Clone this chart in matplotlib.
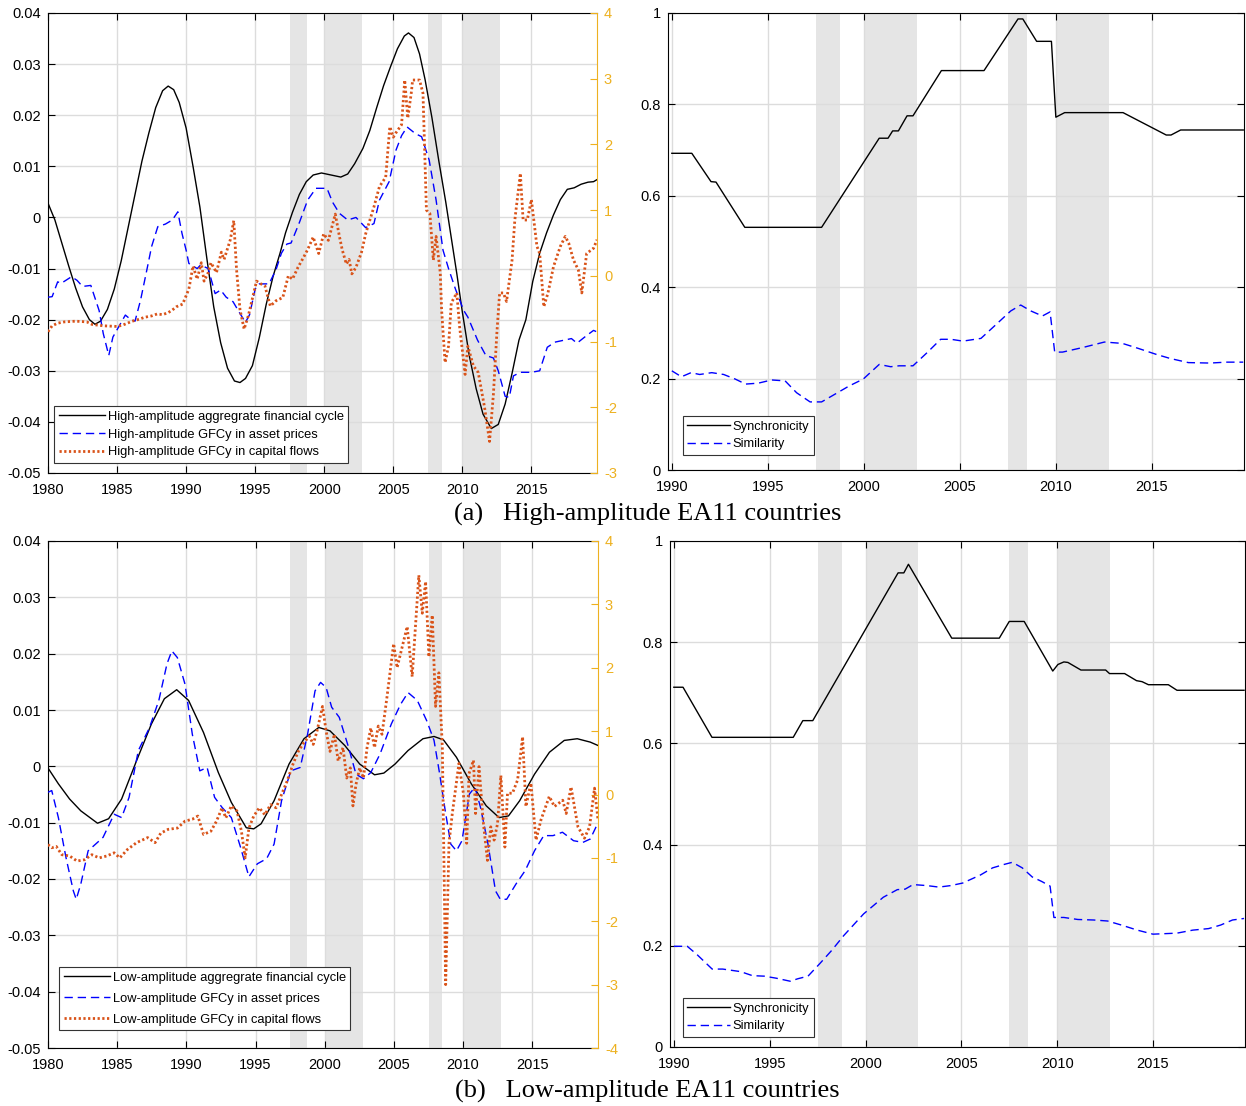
import matplotlib
matplotlib.use('Agg')
import matplotlib.pyplot as plt
from matplotlib.lines import Line2D

plt.rcParams['font.family'] = ['Liberation Sans', 'DejaVu Sans']
plt.rcParams['axes.unicode_minus'] = False

# shaded periods (years)
bands = [(1997.5, 1998.75), (2000.0, 2002.75), (2007.5, 2008.5), (2010.0, 2012.75)]

# ---------------- (a) high-amplitude, left panel ----------------
hi_agg_x = [1980.0, 1980.5, 1981.0, 1981.5, 1982.0, 1982.5, 1983.0, 1983.4, 1983.8, 1984.3,
            1984.8, 1985.3, 1985.8, 1986.3, 1986.8, 1987.3, 1987.8, 1988.3, 1988.7, 1989.1,
            1989.5, 1990.0, 1990.5, 1991.0, 1991.5, 1992.0, 1992.5, 1993.0, 1993.5, 1993.9,
            1994.3, 1994.8, 1995.3, 1995.8, 1996.3, 1996.8, 1997.2, 1997.7, 1998.2, 1998.7,
            1999.2, 1999.8, 2000.5, 2001.2, 2001.7, 2002.2, 2002.8, 2003.3, 2003.8, 2004.3,
            2004.8, 2005.3, 2005.8, 2006.1, 2006.5, 2006.9, 2007.3, 2007.8, 2008.3, 2008.8,
            2009.2, 2009.6, 2010.0, 2010.5, 2011.0, 2011.5, 2012.1, 2012.6, 2013.1, 2013.6,
            2014.1, 2014.6, 2015.1, 2015.6, 2016.1, 2016.6, 2017.1, 2017.6, 2018.1, 2018.6,
            2019.1, 2019.5, 2019.75]
hi_agg_y = [0.0028, -0.0005, -0.0050, -0.0095, -0.0138, -0.0175, -0.0200, -0.0209, -0.0203, -0.0180,
            -0.0140, -0.0085, -0.0020, 0.0045, 0.0110, 0.0165, 0.0215, 0.0248, 0.0257, 0.0250,
            0.0225, 0.0175, 0.0100, 0.0020, -0.0080, -0.0175, -0.0245, -0.0295, -0.0320, -0.0323,
            -0.0315, -0.0290, -0.0235, -0.0170, -0.0115, -0.0070, -0.0030, 0.0010, 0.0045, 0.0070,
            0.0083, 0.0087, 0.0083, 0.0079, 0.0085, 0.0105, 0.0135, 0.0170, 0.0215, 0.0258,
            0.0295, 0.0330, 0.0355, 0.0361, 0.0352, 0.0320, 0.0270, 0.0195, 0.0110, 0.0030,
            -0.0040, -0.0110, -0.0185, -0.0270, -0.0335, -0.0385, -0.0413, -0.0405, -0.0365, -0.0305,
            -0.0240, -0.0200, -0.0125, -0.0070, -0.0030, 0.0005, 0.0035, 0.0055, 0.0058, 0.0065,
            0.0069, 0.0070, 0.0074]

hi_asset_x = [1980.0, 1980.3, 1980.7, 1980.95, 1981.7, 1982.1, 1982.5, 1983.1, 1983.7, 1984.0,
              1984.4, 1984.7, 1985.6, 1986.0, 1986.3, 1986.7, 1987.2, 1987.5, 1987.95, 1988.5,
              1989.0, 1989.4, 1989.7, 1990.0, 1990.2, 1990.8, 1991.05, 1991.6, 1992.1, 1992.5,
              1992.9, 1993.4, 1993.9, 1994.3, 1994.6, 1995.0, 1995.3, 1996.0, 1996.5, 1996.9,
              1997.3, 1997.6, 1998.2, 1998.8, 1999.4, 2000.2, 2000.6, 2001.1, 2001.7, 2002.3,
              2003.0, 2003.6, 2004.0, 2004.7, 2005.2, 2005.6, 2006.0, 2006.6, 2007.05, 2007.6,
              2008.1, 2008.6, 2009.0, 2009.5, 2010.1, 2010.4, 2011.1, 2011.7, 2012.25, 2012.6,
              2013.1, 2013.4, 2013.7, 2014.2, 2015.0, 2015.6, 2016.15, 2016.7, 2017.9, 2018.3,
              2019.0, 2019.5, 2019.75]
hi_asset_y = [-0.0156, -0.0155, -0.0126, -0.0129, -0.0116, -0.0123, -0.0135, -0.0133, -0.0182, -0.0227,
              -0.0270, -0.0234, -0.0191, -0.0200, -0.0203, -0.0162, -0.0097, -0.0057, -0.0018, -0.0013,
              -0.0005, 0.0011, -0.0031, -0.0064, -0.0090, -0.0100, -0.0093, -0.0100, -0.0149, -0.0142,
              -0.0156, -0.0165, -0.0188, -0.0205, -0.0190, -0.0140, -0.0130, -0.0130, -0.0103, -0.0070,
              -0.0052, -0.0050, -0.0010, 0.0034, 0.0057, 0.0057, 0.0030, 0.0008, -0.0005, 0.0000,
              -0.0020, -0.0012, 0.0034, 0.0070, 0.0132, 0.0160, 0.0177, 0.0164, 0.0158, 0.0112,
              0.0034, -0.0064, -0.0100, -0.0140, -0.0182, -0.0195, -0.0240, -0.0270, -0.0275, -0.0300,
              -0.0350, -0.0352, -0.0310, -0.0303, -0.0303, -0.0300, -0.0254, -0.0244, -0.0237, -0.0246,
              -0.0231, -0.0221, -0.0224]

hi_flow_x = [1980.0, 1980.3, 1980.7, 1981.2, 1982.0, 1982.8, 1983.2, 1984.0, 1985.0, 1985.4,
             1986.1, 1986.6, 1987.0, 1987.5, 1987.9, 1988.3, 1988.7, 1989.0, 1989.3, 1989.75,
             1990.2, 1990.5, 1990.8, 1991.1, 1991.3, 1991.6, 1991.8, 1992.2, 1992.55, 1992.75,
             1993.2, 1993.45, 1993.65, 1993.9, 1994.2, 1994.5, 1995.1, 1995.4, 1995.7, 1996.1,
             1996.5, 1997.0, 1997.4, 1997.7, 1998.1, 1998.5, 1998.8, 1999.2, 1999.6, 1999.96,
             2000.3, 2000.8, 2001.1, 2001.3, 2001.6, 2001.8, 2002.0, 2002.3, 2002.7, 2003.0,
             2003.6, 2004.0, 2004.45, 2004.75, 2005.0, 2005.2, 2005.4, 2005.6, 2005.83, 2006.05,
             2006.3, 2006.4, 2006.9, 2007.15, 2007.4, 2007.65, 2007.9, 2008.1, 2008.4, 2008.5,
             2008.75, 2009.0, 2009.2, 2009.6, 2009.8, 2010.2, 2010.4, 2010.8, 2011.15, 2011.6,
             2011.97, 2012.25, 2012.5, 2012.7, 2012.97, 2013.2, 2013.6, 2013.8, 2014.2, 2014.4,
             2014.7, 2015.0, 2015.4, 2015.6, 2015.9, 2016.2, 2016.6, 2017.1, 2017.45, 2017.7,
             2018.05, 2018.4, 2018.65, 2019.0, 2019.5, 2019.75]
hi_flow_y = [-0.85, -0.76, -0.72, -0.70, -0.69, -0.70, -0.74, -0.76, -0.77, -0.75,
             -0.69, -0.66, -0.63, -0.61, -0.58, -0.59, -0.56, -0.52, -0.47, -0.43,
             -0.20, 0.15, -0.05, 0.20, -0.08, 0.05, 0.20, 0.05, 0.36, 0.25,
             0.55, 0.84, 0.10, -0.51, -0.81, -0.61, -0.08, -0.12, -0.15, -0.46,
             -0.38, -0.33, 0.00, -0.05, 0.13, 0.28, 0.40, 0.59, 0.34, 0.64,
             0.54, 0.94, 0.60, 0.40, 0.18, 0.25, 0.03, 0.13, 0.36, 0.64,
             1.05, 1.36, 1.50, 2.27, 2.11, 2.18, 2.24, 2.30, 2.98, 2.40,
             2.78, 2.98, 2.98, 2.78, 1.00, 0.95, 0.24, 0.60, 0.05, -0.52,
             -1.32, -1.07, -0.41, -0.26, -0.77, -1.50, -1.07, -1.37, -1.47, -1.99,
             -2.52, -1.80, -0.87, -0.26, -0.26, -0.39, 0.24, 0.85, 1.56, 0.85,
             0.85, 1.16, 0.45, 0.34, -0.47, -0.26, 0.14, 0.45, 0.60, 0.50,
             0.24, 0.09, -0.26, 0.34, 0.42, 0.55]

# ---------------- (a) high-amplitude, right panel ----------------
hi_sync_x = [1990.0, 1991.04, 1992.04, 1992.3, 1993.8, 1997.8, 2000.8, 2001.26, 2001.5, 2001.8,
             2002.25, 2002.56, 2004.04, 2006.26, 2008.03, 2008.28, 2009.0, 2009.77, 2010.0, 2010.46,
             2013.5, 2015.75, 2016.0, 2016.5, 2019.76]
hi_sync_y = [0.693, 0.693, 0.631, 0.630, 0.531, 0.531, 0.726, 0.726, 0.742, 0.742,
             0.775, 0.775, 0.874, 0.874, 0.987, 0.987, 0.938, 0.938, 0.772, 0.782,
             0.782, 0.733, 0.733, 0.744, 0.744]
hi_sim_x = [1990.0, 1990.5, 1991.0, 1991.45, 1992.08, 1992.7, 1993.3, 1993.84, 1994.5, 1995.2,
            1995.9, 1996.5, 1997.2, 1997.8, 1998.5, 1999.24, 1999.97, 2000.8, 2001.4, 2001.84,
            2002.56, 2003.3, 2004.0, 2004.54, 2005.16, 2006.1, 2006.8, 2007.65, 2008.17, 2008.7,
            2009.3, 2009.7, 2009.94, 2010.35, 2011.4, 2012.53, 2013.47, 2014.3, 2015.23, 2015.96,
            2016.9, 2018.04, 2018.87, 2019.76]
hi_sim_y = [0.217, 0.204, 0.213, 0.209, 0.213, 0.209, 0.199, 0.188, 0.190, 0.197,
            0.195, 0.169, 0.149, 0.149, 0.166, 0.184, 0.199, 0.231, 0.226, 0.228,
            0.228, 0.257, 0.286, 0.286, 0.282, 0.288, 0.315, 0.348, 0.361, 0.348,
            0.337, 0.346, 0.258, 0.258, 0.268, 0.280, 0.277, 0.266, 0.253, 0.244,
            0.235, 0.234, 0.236, 0.236]

# ---------------- (b) low-amplitude, left panel ----------------
lo_agg_x = [1980.0, 1980.75, 1981.56, 1982.37, 1983.58, 1984.38, 1985.32, 1986.4, 1987.47, 1988.41,
            1989.3, 1990.16, 1991.24, 1992.31, 1993.25, 1994.33, 1994.87, 1995.4, 1996.34, 1997.42,
            1998.5, 1999.57, 2000.38, 2001.45, 2002.53, 2003.6, 2004.27, 2005.08, 2006.02, 2007.1,
            2007.9, 2008.58, 2009.52, 2010.59, 2011.67, 2012.6, 2013.28, 2014.09, 2015.16, 2016.24,
            2017.31, 2018.25, 2019.19, 2019.75]
lo_agg_y = [-0.0003, -0.0031, -0.0058, -0.0079, -0.0101, -0.0093, -0.0058, 0.0010, 0.0075, 0.0120,
            0.0136, 0.0117, 0.0060, -0.0011, -0.0064, -0.0109, -0.0111, -0.0102, -0.0061, 0.0004,
            0.0049, 0.0069, 0.0063, 0.0037, 0.0004, -0.0015, -0.0012, 0.0004, 0.0028, 0.0049,
            0.0053, 0.0047, 0.0016, -0.0031, -0.0070, -0.0091, -0.0088, -0.0061, -0.0014, 0.0025,
            0.0046, 0.0049, 0.0043, 0.0037]

lo_asset_x = [1980.0, 1980.27, 1980.75, 1981.3, 1981.83, 1982.04, 1982.37, 1982.9, 1983.58, 1983.98,
              1984.78, 1985.32, 1985.86, 1986.53, 1987.34, 1988.01, 1988.6, 1988.95, 1989.35, 1989.9,
              1990.43, 1990.97, 1991.5, 1992.04, 1992.58, 1993.25, 1993.92, 1994.52, 1995.13, 1995.8,
              1996.34, 1996.88, 1997.55, 1998.23, 1998.76, 1999.3, 1999.7, 2000.1, 2000.5, 2001.05,
              2001.72, 2002.26, 2002.8, 2003.33, 2004.0, 2004.81, 2005.48, 2006.02, 2006.69, 2007.37,
              2007.9, 2008.31, 2008.71, 2009.11, 2009.52, 2009.92, 2010.46, 2010.86, 2011.26, 2011.8,
              2012.34, 2012.69, 2013.15, 2013.82, 2014.49, 2015.16, 2015.83, 2016.5, 2017.18, 2017.98,
              2018.66, 2019.19, 2019.6, 2019.75]
lo_asset_y = [-0.0046, -0.0043, -0.0091, -0.0162, -0.0221, -0.0236, -0.0209, -0.0150, -0.0135, -0.0126,
              -0.0085, -0.0091, -0.0055, 0.0028, 0.0069, 0.0117, 0.0182, 0.0205, 0.0193, 0.0146,
              0.0057, -0.0008, -0.0002, -0.0055, -0.0073, -0.0091, -0.0144, -0.0196, -0.0173, -0.0164,
              -0.0138, -0.0061, -0.0008, -0.0002, 0.0057, 0.0134, 0.0149, 0.0140, 0.0105, 0.0087,
              0.0034, -0.0014, -0.0022, -0.0011, 0.0022, 0.0075, 0.0110, 0.0131, 0.0117, 0.0081,
              0.0046, -0.0014, -0.0079, -0.0138, -0.0150, -0.0132, -0.0049, -0.0037, -0.0073, -0.0138,
              -0.0221, -0.0236, -0.0236, -0.0209, -0.0185, -0.0150, -0.0123, -0.0123, -0.0117, -0.0132,
              -0.0135, -0.0129, -0.0108, -0.0102]

lo_flow_x = [1980.0, 1980.27, 1980.6, 1981.0, 1981.56, 1982.1, 1982.63, 1983.17, 1983.7, 1984.25,
             1984.78, 1985.19, 1985.73, 1986.4, 1987.2, 1987.74, 1988.15, 1988.68, 1989.35, 1989.9,
             1990.43, 1990.83, 1991.24, 1991.77, 1992.18, 1992.58, 1992.85, 1993.25, 1993.66, 1993.98,
             1994.25, 1994.52, 1994.87, 1995.27, 1995.67, 1996.08, 1996.48, 1996.88, 1997.28, 1997.69,
             1998.09, 1998.49, 1998.9, 1999.17, 1999.44, 1999.84, 2000.1, 2000.38, 2000.7, 2000.97,
             2001.32, 2001.59, 2001.85, 2002.04, 2002.26, 2002.53, 2002.8, 2003.06, 2003.33, 2003.6,
             2003.87, 2004.14, 2004.5, 2004.98, 2005.23, 2005.6, 2005.96, 2006.32, 2006.8, 2007.05,
             2007.29, 2007.53, 2007.77, 2008.01, 2008.25, 2008.5, 2008.74, 2008.98, 2009.22, 2009.7,
             2010.02, 2010.26, 2010.43, 2010.75, 2010.9, 2011.15, 2011.47, 2011.76, 2012.0, 2012.24,
             2012.49, 2012.73, 2013.02, 2013.21, 2013.57, 2013.94, 2014.3, 2014.54, 2014.9, 2015.27,
             2015.63, 2016.23, 2016.6, 2017.2, 2017.45, 2017.8, 2018.3, 2018.77, 2019.14, 2019.5,
             2019.75]
lo_flow_y = [-0.79, -0.84, -0.82, -0.95, -0.97, -1.05, -1.03, -0.95, -1.00, -0.97,
             -0.92, -1.00, -0.87, -0.76, -0.68, -0.76, -0.61, -0.55, -0.53, -0.42,
             -0.39, -0.34, -0.63, -0.58, -0.42, -0.21, -0.37, -0.18, -0.26, -0.58,
             -1.00, -0.53, -0.34, -0.21, -0.32, -0.16, -0.21, 0.00, 0.21, 0.47,
             0.68, 0.82, 0.92, 0.79, 1.00, 1.39, 1.00, 0.68, 0.95, 0.53,
             0.74, 0.26, 0.42, -0.18, 0.16, 0.42, 0.26, 0.74, 1.05, 0.74,
             1.08, 0.95, 1.54, 2.38, 2.00, 2.33, 2.65, 1.86, 3.46, 2.86,
             3.36, 2.17, 2.83, 1.39, 1.92, 0.75, -3.00, -0.77, -0.30, 0.49,
             0.02, -0.77, 0.33, 0.54, -0.30, 0.44, -0.46, -1.04, -0.51, -0.72,
             -0.46, 0.30, -0.83, 0.02, 0.02, 0.23, 0.91, -0.19, 0.18, -0.72,
             -0.40, -0.03, -0.19, -0.09, -0.30, 0.12, -0.51, -0.69, -0.51, 0.10,
             -0.40]

# ---------------- (b) low-amplitude, right panel ----------------
lo_sync_x = [1990.0, 1990.48, 1991.99, 1996.23, 1996.73, 1997.25, 2001.7, 2002.0, 2002.24, 2004.5,
             2006.98, 2007.5, 2008.28, 2009.77, 2010.04, 2010.35, 2010.56, 2011.24, 2012.53, 2012.73,
             2013.52, 2014.14, 2014.43, 2014.76, 2015.8, 2016.25, 2019.75]
lo_sync_y = [0.711, 0.711, 0.612, 0.612, 0.645, 0.645, 0.937, 0.937, 0.954, 0.808,
             0.808, 0.841, 0.841, 0.743, 0.756, 0.761, 0.760, 0.745, 0.745, 0.738,
             0.738, 0.724, 0.722, 0.716, 0.716, 0.705, 0.705]
lo_sim_x = [1990.0, 1990.7, 1991.2, 1992.0, 1992.55, 1993.48, 1994.1, 1994.72, 1995.34, 1996.07,
            1996.48, 1997.0, 1997.62, 1998.24, 1998.86, 1999.9, 2000.93, 2001.66, 2002.07, 2002.48,
            2003.2, 2003.83, 2004.45, 2005.07, 2006.0, 2006.63, 2007.25, 2007.66, 2008.18, 2008.7,
            2009.2, 2009.63, 2009.83, 2010.35, 2011.08, 2011.9, 2012.63, 2013.35, 2014.18, 2015.0,
            2016.25, 2017.08, 2017.9, 2018.53, 2019.15, 2019.75]
lo_sim_y = [0.199, 0.199, 0.183, 0.154, 0.154, 0.149, 0.141, 0.140, 0.136, 0.130,
            0.135, 0.140, 0.165, 0.191, 0.220, 0.263, 0.296, 0.311, 0.312, 0.321,
            0.319, 0.316, 0.319, 0.324, 0.340, 0.354, 0.361, 0.365, 0.354, 0.336,
            0.327, 0.318, 0.256, 0.256, 0.252, 0.251, 0.249, 0.241, 0.231, 0.223,
            0.225, 0.231, 0.234, 0.241, 0.251, 0.254]

BLACK = 'black'
BLUE = '#0000FF'
RED = '#D95319'
GOLD = '#EDB120'
SHADE = '#E5E5E5'
GRID = '#DCDCDC'
DASH = (0, (6, 3.5))
DOT = (0, (0.8, 0.9))
TICK_FS = 10.5

W, H = 1246, 1106
fig = plt.figure(figsize=(W / 100, H / 100), dpi=100)


def box(l, t, r, b):
    return [l / W, 1 - b / H, (r - l) / W, (b - t) / H]


def shade(ax):
    for a, b in bands:
        ax.axvspan(a, b, color=SHADE, lw=0, zorder=0.2)


def style(ax):
    ax.set_axisbelow(True)
    ax.grid(True, color=GRID, lw=1.0)
    ax.tick_params(direction='in', length=5, labelsize=TICK_FS, width=0.8)
    ax.tick_params(axis='x', pad=7.5)
    ax.tick_params(axis='y', pad=5)
    for s in ax.spines.values():
        s.set_linewidth(0.8)


def make_legend(ax, handles, labels, anchor, fs, hl, space):
    leg = ax.legend(handles, labels, loc='lower left', bbox_to_anchor=anchor,
                    borderaxespad=0, fancybox=False, framealpha=1, edgecolor='#333333',
                    fontsize=fs, handlelength=hl, handletextpad=0.2, labelspacing=space,
                    borderpad=0.35)
    leg.get_frame().set_linewidth(0.8)


def left_panel(pos, agg, asset, flow, prefix, rlim, leg_anchor, leg_space):
    ax = fig.add_axes(pos)
    shade(ax)
    style(ax)
    ax.plot(agg[0], agg[1], color=BLACK, lw=1.0, zorder=3)
    ax.plot(asset[0], asset[1], color=BLUE, lw=1.0, ls=DASH, zorder=3)
    ax.set_xlim(1980, 2019.75)
    ax.set_ylim(-0.05, 0.04)
    ax.set_xticks(range(1980, 2020, 5))
    yt = [-0.05, -0.04, -0.03, -0.02, -0.01, 0, 0.01, 0.02, 0.03, 0.04]
    ax.set_yticks(yt)
    ax.set_yticklabels(['0' if v == 0 else ('%.2f' % v) for v in yt])
    ax.tick_params(top=True, right=False)
    ax.spines['right'].set_visible(False)

    ax2 = ax.twinx()
    ax2.plot(flow[0], flow[1], color=RED, lw=2.0, ls=DOT, zorder=3)
    ax2.set_ylim(*rlim)
    ax2.set_yticks(range(rlim[0], rlim[1] + 1))
    ax2.tick_params(direction='in', length=5, labelsize=TICK_FS, colors=GOLD, width=0.8, pad=5)
    ax2.spines['right'].set_color(GOLD)
    ax2.spines['right'].set_linewidth(0.8)
    for s in ['left', 'top', 'bottom']:
        ax2.spines[s].set_visible(False)

    handles = [Line2D([], [], color=BLACK, lw=1.0),
               Line2D([], [], color=BLUE, lw=1.0, ls=DASH),
               Line2D([], [], color=RED, lw=2.0, ls=DOT)]
    labels = [prefix + ' aggregrate financial cycle',
              prefix + ' GFCy in asset prices',
              prefix + ' GFCy in capital flows']
    make_legend(ax2, handles, labels, leg_anchor, 9.3, 3.6, leg_space)
    return ax


def right_panel(pos, sync, sim, leg_anchor):
    ax = fig.add_axes(pos)
    shade(ax)
    style(ax)
    ax.plot(sync[0], sync[1], color=BLACK, lw=1.0, zorder=3)
    ax.plot(sim[0], sim[1], color=BLUE, lw=1.0, ls=DASH, zorder=3)
    ax.set_xlim(1989.8, 2019.8)
    ax.set_ylim(0, 1)
    ax.set_xticks(range(1990, 2020, 5))
    ax.set_yticks([0, 0.2, 0.4, 0.6, 0.8, 1])
    ax.set_yticklabels(['0', '0.2', '0.4', '0.6', '0.8', '1'])
    ax.tick_params(top=True, right=True)
    handles = [Line2D([], [], color=BLACK, lw=1.0),
               Line2D([], [], color=BLUE, lw=1.0, ls=DASH)]
    make_legend(ax, handles, ['Synchronicity', 'Similarity'], leg_anchor, 9.3, 3.3, 0.45)
    return ax


left_panel(box(48, 13, 597, 473), (hi_agg_x, hi_agg_y), (hi_asset_x, hi_asset_y),
           (hi_flow_x, hi_flow_y), 'High-amplitude', (-3, 4), (0.011, 0.022), 0.45)
right_panel(box(668, 13, 1244, 470), (hi_sync_x, hi_sync_y), (hi_sim_x, hi_sim_y),
            (0.026, 0.033))
left_panel(box(48, 541, 598, 1048), (lo_agg_x, lo_agg_y), (lo_asset_x, lo_asset_y),
           (lo_flow_x, lo_flow_y), 'Low-amplitude', (-4, 4), (0.02, 0.035), 0.7)
right_panel(box(670, 541, 1245, 1047), (lo_sync_x, lo_sync_y), (lo_sim_x, lo_sim_y),
            (0.022, 0.02))

fig.text(0.5197, 1 - 514 / H, '(a)   High-amplitude EA11 countries', ha='center', va='center',
         fontsize=19, family=['Liberation Serif', 'DejaVu Serif'])
fig.text(0.5193, 1 - 1091 / H, '(b)   Low-amplitude EA11 countries', ha='center', va='center',
         fontsize=19, family=['Liberation Serif', 'DejaVu Serif'])

fig.savefig('out.png', dpi=100)
